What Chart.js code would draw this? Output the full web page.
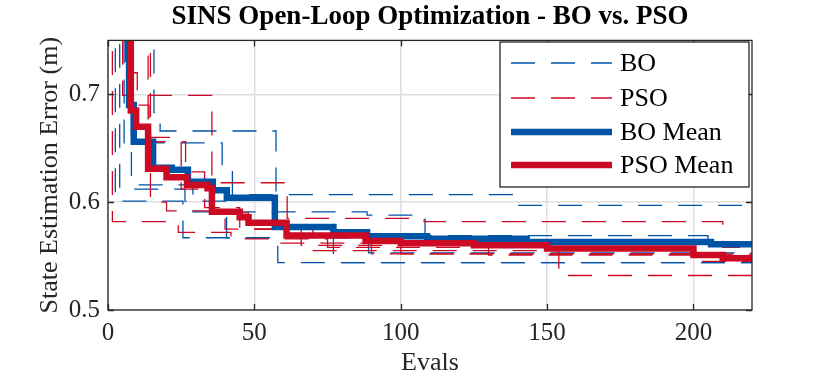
<!DOCTYPE html>
<html>
<head>
<meta charset="utf-8">
<script src="https://cdn.jsdelivr.net/npm/chart.js@4.4.0/dist/chart.umd.min.js"></script>
<style>
  html, body { margin: 0; padding: 0; background: #fff; }
  #wrap { width: 830px; height: 382px; }
</style>
</head>
<body>
<div id="wrap"><canvas id="chart" width="830" height="382"></canvas></div>
<script>
const BLUE = "#0054a6";
const RED  = "#cc0a23";
const FONT = "'Liberation Serif', 'Times New Roman', serif";

// tick labels
const X_TICKS = [0, 50, 100, 150, 200];
const Y_TICKS = [0.5, 0.6, 0.7];

// BO runs (step change points: eval, error)
const BO_RUN_1_X = [1, 15.7, 17.8, 57.4, 77, 220];
const BO_RUN_1_Y = [0.85, 0.683, 0.666, 0.575, 0.544, 0.544];
const BO_RUN_2_X = [1, 8, 29, 88.5, 108.3, 205, 220];
const BO_RUN_2_Y = [0.85, 0.616, 0.591, 0.588, 0.569, 0.561, 0.561];
const BO_RUN_3_X = [1, 2.5, 25.6, 89, 220];
const BO_RUN_3_Y = [0.85, 0.601, 0.567, 0.553, 0.553];
const BO_RUN_4_X = [1, 4, 26.3, 40.5, 58, 220];
const BO_RUN_4_Y = [0.85, 0.612, 0.601, 0.567, 0.544, 0.544];
const BO_RUN_5_X = [1, 5.5, 39, 42.5, 138.4, 220];
const BO_RUN_5_Y = [0.85, 0.655, 0.630, 0.607, 0.597, 0.597];

// PSO runs
const PSO_RUN_1_X = [1, 5, 35.5, 61.2, 108, 210, 220];
const PSO_RUN_1_Y = [0.85, 0.699, 0.618, 0.585, 0.582, 0.558, 0.558];
const PSO_RUN_2_X = [1, 13.7, 26.5, 33, 45, 70, 154, 220];
const PSO_RUN_2_Y = [0.85, 0.656, 0.628, 0.595, 0.575, 0.555, 0.532, 0.532];
const PSO_RUN_3_X = [1, 1.5, 24, 42, 75, 130, 220];
const PSO_RUN_3_Y = [0.85, 0.582, 0.572, 0.566, 0.558, 0.551, 0.551];
const PSO_RUN_4_X = [1, 14.5, 20, 40, 58, 90, 220];
const PSO_RUN_4_Y = [0.85, 0.600, 0.592, 0.575, 0.562, 0.552, 0.552];
const PSO_RUN_5_X = [1, 6, 10, 14, 25, 35, 48, 66, 100, 202, 220];
const PSO_RUN_5_Y = [0.85, 0.72, 0.69, 0.66, 0.612, 0.59, 0.575, 0.56, 0.552, 0.545, 0.545];

// means
const BO_MEAN_X = [1, 7.2, 8.8, 15.4, 21.8, 27.3, 35.8, 40.6, 57, 77, 88.5, 109, 143, 206, 220];
const BO_MEAN_Y = [0.85, 0.69, 0.656, 0.632, 0.630, 0.619, 0.611, 0.604, 0.577, 0.572, 0.5685, 0.566, 0.563, 0.561, 0.561];
const PSO_MEAN_X = [1, 7.8, 9.6, 13.7, 20, 27, 34, 35.5, 45, 48, 61, 88, 100, 125, 150, 200, 210, 220];
const PSO_MEAN_Y = [0.85, 0.685, 0.670, 0.631, 0.623, 0.616, 0.613, 0.591, 0.586, 0.581, 0.569, 0.564, 0.562, 0.560, 0.557, 0.551, 0.548, 0.547];

const LEGEND_LABELS = ["BO", "PSO", "BO Mean", "PSO Mean"];

function toPoints(xs, ys)
{
    return xs.map((x, i) => ({ x: x, y: ys[i] }));
}

function runDataset(xs, ys, color, order)
{
    return {
        data: toPoints(xs, ys),
        borderColor: color,
        borderWidth: 1.3,
        borderDash: [24, 16],
        stepped: true,
        pointRadius: 0,
        fill: false,
        order: order
    };
}

function meanDataset(xs, ys, color, order)
{
    return {
        data: toPoints(xs, ys),
        borderColor: color,
        borderWidth: 6.5,
        stepped: true,
        pointRadius: 0,
        fill: false,
        borderJoinStyle: "miter",
        order: order
    };
}

const datasets = [
    meanDataset(PSO_MEAN_X, PSO_MEAN_Y, RED, 0),
    meanDataset(BO_MEAN_X, BO_MEAN_Y, BLUE, 1),
    runDataset(PSO_RUN_1_X, PSO_RUN_1_Y, RED, 2),
    runDataset(PSO_RUN_2_X, PSO_RUN_2_Y, RED, 2),
    runDataset(PSO_RUN_3_X, PSO_RUN_3_Y, RED, 2),
    runDataset(PSO_RUN_4_X, PSO_RUN_4_Y, RED, 2),
    runDataset(PSO_RUN_5_X, PSO_RUN_5_Y, RED, 2),
    runDataset(BO_RUN_1_X, BO_RUN_1_Y, BLUE, 3),
    runDataset(BO_RUN_2_X, BO_RUN_2_Y, BLUE, 3),
    runDataset(BO_RUN_3_X, BO_RUN_3_Y, BLUE, 3),
    runDataset(BO_RUN_4_X, BO_RUN_4_Y, BLUE, 3),
    runDataset(BO_RUN_5_X, BO_RUN_5_Y, BLUE, 3)
];

// box round the axes, inward tick marks and the legend inside the plot
const frameAndLegend = {
    id: "frameAndLegend",
    afterDatasetsDraw(chart)
    {
        const ctx = chart.ctx;
        const a = chart.chartArea;
        const xs = chart.scales.x;
        const ys = chart.scales.y;

        ctx.save();
        ctx.strokeStyle = "#262626";
        ctx.lineWidth = 1.3;
        ctx.beginPath();
        X_TICKS.forEach(v => {
            const px = Math.round(xs.getPixelForValue(v)) + 0.5;
            ctx.moveTo(px, a.bottom); ctx.lineTo(px, a.bottom - 6);
            ctx.moveTo(px, a.top);    ctx.lineTo(px, a.top + 6);
        });
        Y_TICKS.forEach(v => {
            const py = Math.round(ys.getPixelForValue(v)) + 0.5;
            ctx.moveTo(a.left, py);  ctx.lineTo(a.left + 6, py);
            ctx.moveTo(a.right, py); ctx.lineTo(a.right - 6, py);
        });
        ctx.stroke();
        ctx.strokeRect(a.left, a.top, a.right - a.left, a.bottom - a.top);

        // legend
        const lx = 500, ly = 42, lw = 249, lh = 145;
        ctx.fillStyle = "#ffffff";
        ctx.fillRect(lx, ly, lw, lh);
        ctx.strokeRect(lx, ly, lw, lh);

        const rows = [63, 98, 132, 165];
        const styles = [
            { color: BLUE, width: 1.3, dash: [24, 16] },
            { color: RED,  width: 1.3, dash: [24, 16] },
            { color: BLUE, width: 6.5, dash: [] },
            { color: RED,  width: 6.5, dash: [] }
        ];
        rows.forEach((y, i) => {
            ctx.beginPath();
            ctx.strokeStyle = styles[i].color;
            ctx.lineWidth = styles[i].width;
            ctx.setLineDash(styles[i].dash);
            ctx.moveTo(511, y);
            ctx.lineTo(612, y);
            ctx.stroke();
            ctx.setLineDash([]);
            ctx.fillStyle = "#000";
            ctx.font = "26px " + FONT;
            ctx.textBaseline = "middle";
            ctx.textAlign = "left";
            ctx.fillText(LEGEND_LABELS[i], 620, y + 1);
        });
        ctx.restore();
    }
};

new Chart(document.getElementById("chart"), {
    type: "line",
    data: { datasets },
    options: {
        responsive: false,
        animation: false,
        layout: { padding: { left: 0, right: 78, top: 0, bottom: 0 } },
        plugins: {
            legend: { display: false },
            tooltip: { enabled: false },
            title: {
                display: true,
                text: "SINS Open-Loop Optimization - BO vs. PSO",
                color: "#000",
                fullSize: false,
                font: { family: FONT, size: 27, weight: "bold" },
                padding: { top: 1, bottom: 7 }
            }
        },
        scales: {
            x: {
                type: "linear",
                min: 0,
                max: 220,
                afterBuildTicks: scale => { scale.ticks = X_TICKS.map(v => ({ value: v })); },
                afterFit: scale => { scale.height = 72; },
                grid: { color: "#dfdfdf", lineWidth: 1.5, drawTicks: false },
                border: { display: false },
                ticks: { color: "#262626", padding: 8, font: { family: FONT, size: 25 } },
                title: {
                    display: true,
                    text: "Evals",
                    color: "#262626",
                    font: { family: FONT, size: 26 },
                    padding: { top: 0, bottom: 3 }
                }
            },
            y: {
                min: 0.5,
                max: 0.75,
                afterBuildTicks: scale => { scale.ticks = Y_TICKS.map(v => ({ value: v })); },
                afterFit: scale => { scale.width = 108; },
                grid: { color: "#dfdfdf", lineWidth: 1.5, drawTicks: false },
                border: { display: false },
                ticks: {
                    color: "#262626",
                    padding: 8,
                    font: { family: FONT, size: 25 },
                    callback: v => v.toFixed(1)
                },
                title: {
                    display: true,
                    text: "State Estimation Error (m)",
                    color: "#262626",
                    font: { family: FONT, size: 26 },
                    padding: { top: 35, bottom: 0 }
                }
            }
        }
    },
    plugins: [frameAndLegend]
});
</script>
</body>
</html>
